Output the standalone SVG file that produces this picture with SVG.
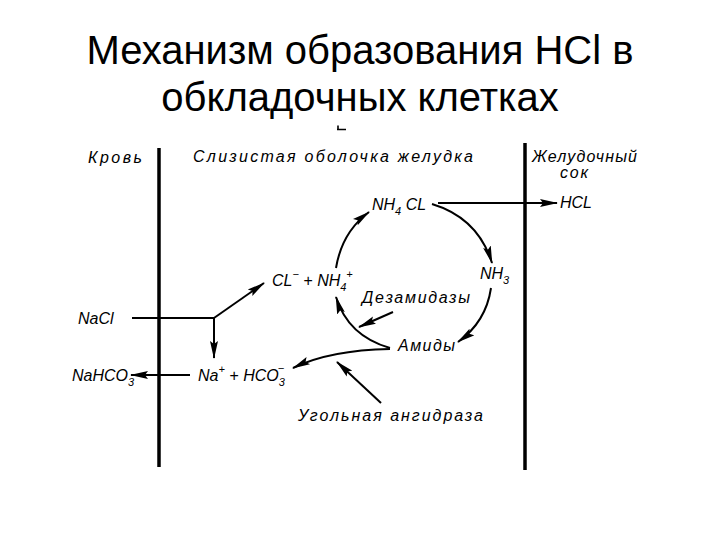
<svg xmlns="http://www.w3.org/2000/svg" width="720" height="540" viewBox="0 0 720 540">
<style>
.title{font-family:"Liberation Sans",Arial,sans-serif;font-size:40px;fill:#000;text-anchor:middle}
.lbl{font-family:"Liberation Sans",Arial,sans-serif;font-style:italic;font-size:16px;fill:#000}
.sub{font-size:11px}
.wall{stroke:#000;stroke-width:3.5;fill:none}
.ln{stroke:#000;stroke-width:2;fill:none}
</style>
<defs>
<marker id="ah" markerWidth="18" markerHeight="10" refX="17" refY="5" orient="auto" markerUnits="userSpaceOnUse">
<path d="M0,1 L18,5 L0,9 L3,5 Z" fill="#000"/>
</marker>
</defs>
<rect width="720" height="540" fill="#fff"/>
<g id="title">
<text class="title" x="360" y="64">Механизм образования HCl в</text>
<text class="title" x="360" y="111">обкладочных клетках</text>
</g>
<path d="M337,129.5 L346,129.5 M338,125.5 L338,129.5" stroke="#000" stroke-width="1.6" fill="none"/>
<g id="walls">
<line class="wall" x1="159" y1="148" x2="159" y2="467"/>
<line class="wall" x1="525" y1="143" x2="525" y2="470"/>
</g>
<g id="headers">
<text class="lbl" x="88" y="163" textLength="54">Кровь</text>
<text class="lbl" x="193" y="162" textLength="280">Слизистая оболочка желудка</text>
<text class="lbl" x="532" y="162" textLength="105">Желудочный</text>
<text class="lbl" x="560" y="178" textLength="28">сок</text>
</g>
<g id="nh4cl"><text class="lbl" x="372" y="210">NH<tspan class="sub" dy="5">4</tspan><tspan dy="-5"> CL</tspan></text></g>
<g id="hcl"><text class="lbl" x="560" y="208">HCL</text></g>
<g id="nh3"><text class="lbl" x="480" y="279">NH<tspan class="sub" dy="5">3</tspan></text></g>
<g id="clnh4"><text class="lbl" x="272" y="286">CL<tspan class="sub" dy="-8">−</tspan><tspan dy="8"> + NH</tspan><tspan class="sub" dy="5">4</tspan><tspan class="sub" dy="-13">+</tspan></text></g>
<g id="dezamidazy"><text class="lbl" x="362" y="303" textLength="108">Дезамидазы</text></g>
<g id="amidy"><text class="lbl" x="398" y="351" textLength="57">Амиды</text></g>
<g id="nacl"><text class="lbl" x="78" y="324">NaCl</text></g>
<g id="nahco3"><text class="lbl" x="72" y="381">NaHCO<tspan class="sub" dy="5">3</tspan></text></g>
<g id="nahco3ions"><text class="lbl" x="198" y="381">Na<tspan class="sub" dy="-8">+</tspan><tspan dy="8"> + HCO</tspan><tspan class="sub" dy="5">3</tspan><tspan class="sub" dx="-7" dy="-14">−</tspan></text></g>
<g id="anhydrase"><text class="lbl" x="298" y="421" textLength="185">Угольная ангидраза</text></g>
<g id="connectors">
<line class="ln" x1="438" y1="203" x2="557" y2="203" marker-end="url(#ah)"/>
<path class="ln" d="M432,204 Q478,218 492,263" marker-end="url(#ah)"/>
<path class="ln" d="M336,268 Q342,232 369,212" marker-end="url(#ah)"/>
<path class="ln" d="M491,288 Q486,322 458,342" marker-end="url(#ah)"/>
<path class="ln" d="M390,348 Q348,336 336,297" marker-end="url(#ah)"/>
<line class="ln" x1="393" y1="312" x2="359" y2="327" stroke-width="1.5" marker-end="url(#ah)"/>
<path class="ln" d="M390,349 Q330,350 293,368" marker-end="url(#ah)"/>
<line class="ln" x1="381" y1="403" x2="337" y2="362" marker-end="url(#ah)"/>
<polyline class="ln" points="132,318 214,318"/>
<line class="ln" x1="214" y1="318" x2="264" y2="283" marker-end="url(#ah)"/>
<line class="ln" x1="214" y1="318" x2="214" y2="358" marker-end="url(#ah)"/>
<line class="ln" x1="190" y1="375" x2="131" y2="375" marker-end="url(#ah)"/>
</g>
</svg>
